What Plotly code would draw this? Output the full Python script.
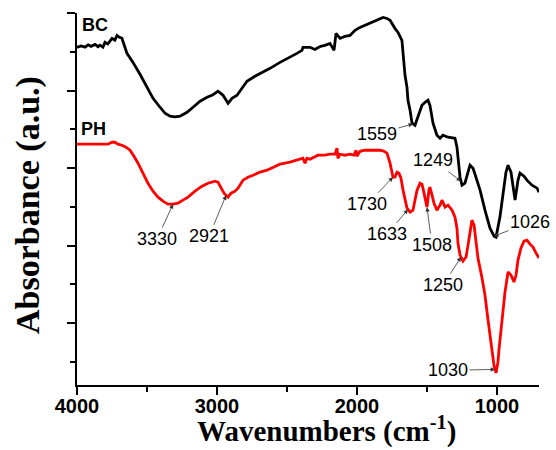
import numpy as np
import plotly.graph_objects as go

# ---- data (wavenumber cm^-1, absorbance a.u.) ----
bc_wn = [4000, 3970, 3943, 3920, 3900, 3871, 3850, 3836, 3815, 3800, 3780, 3750, 3730, 3714, 3700,
         3679, 3643, 3600, 3550, 3500, 3457, 3407, 3371, 3336, 3300, 3264, 3214, 3171, 3121, 3071,
         3036, 2993, 2957, 2921, 2893, 2857, 2821, 2786, 2729, 2671, 2621, 2550, 2479, 2429, 2393,
         2386, 2336, 2300, 2286, 2260, 2229, 2193, 2164, 2150, 2121, 2086, 2050, 2014, 1979, 1943,
         1907, 1857, 1814, 1786, 1764, 1729, 1707, 1679, 1671, 1657, 1643, 1636, 1621, 1607, 1586,
         1564, 1536, 1514, 1493, 1479, 1457, 1429, 1407, 1386, 1350, 1300, 1286, 1264, 1250, 1229,
         1193, 1171, 1143, 1121, 1086, 1050, 1021, 1007, 979, 957, 936, 921, 900, 871, 850, 836,
         807, 786, 750, 714, 700]
bc_abs = [3.557, 3.575, 3.560, 3.590, 3.570, 3.595, 3.565, 3.585, 3.560, 3.621, 3.600, 3.673, 3.650, 3.711, 3.690,
          3.673, 3.479, 3.363, 3.209, 3.041, 2.899, 2.784, 2.706, 2.668, 2.660, 2.668, 2.719, 2.784, 2.861, 2.912,
          2.938, 2.990, 2.938, 2.835, 2.899, 2.938, 3.028, 3.119, 3.183, 3.235, 3.286, 3.363, 3.428, 3.479, 3.518,
          3.557, 3.557, 3.530, 3.544, 3.570, 3.582, 3.608, 3.518, 3.737, 3.673, 3.698, 3.711, 3.776, 3.814, 3.840,
          3.866, 3.905, 3.943, 3.930, 3.905, 3.802, 3.750, 3.647, 3.479, 3.196, 3.041, 2.874, 2.745, 2.577, 2.552,
          2.655, 2.809, 2.848, 2.874, 2.809, 2.577, 2.423, 2.384, 2.423, 2.397, 2.384, 2.268, 1.881, 1.778, 1.804,
          2.036, 1.997, 1.843, 1.714, 1.456, 1.224, 1.120, 1.108, 1.366, 1.649, 1.946, 2.036, 1.946, 1.585, 1.843, 1.933,
          1.894, 1.843, 1.778, 1.740, 1.688]

ph_wn = [4000, 3907, 3836, 3779, 3750, 3729, 3707, 3679, 3650, 3621, 3593, 3564, 3529, 3493, 3457,
         3421, 3386, 3350, 3314, 3279, 3243, 3207, 3157, 3107, 3064, 3014, 2993, 2971, 2950, 2921,
         2900, 2871, 2850, 2814, 2779, 2743, 2693, 2643, 2600, 2550, 2479, 2429, 2386, 2371, 2357,
         2336, 2307, 2279, 2229, 2193, 2157, 2143, 2136, 2121, 2086, 2050, 2021, 2007, 2000, 1979,
         1943, 1907, 1871, 1836, 1807, 1786, 1764, 1743, 1729, 1714, 1700, 1686, 1671, 1657, 1643,
         1621, 1600, 1586, 1571, 1550, 1536, 1529, 1514, 1500, 1486, 1479, 1464, 1450, 1429, 1407,
         1393, 1371, 1350, 1321, 1300, 1286, 1279, 1264, 1243, 1221, 1207, 1193, 1179, 1164, 1150,
         1136, 1107, 1086, 1064, 1043, 1021, 1007, 993, 986, 964, 943, 921, 900, 879, 864,
         850, 829, 807, 786, 764, 743, 721, 700]
ph_abs = [2.307, 2.307, 2.307, 2.307, 2.332, 2.332, 2.307, 2.294, 2.268, 2.229, 2.152, 2.062, 1.933, 1.804, 1.701,
          1.624, 1.572, 1.534, 1.534, 1.546, 1.585, 1.624, 1.701, 1.765, 1.804, 1.830, 1.817, 1.753, 1.675, 1.624,
          1.675, 1.701, 1.740, 1.843, 1.881, 1.907, 1.946, 1.972, 2.010, 2.049, 2.075, 2.101, 2.126, 2.062, 2.126,
          2.113, 2.139, 2.165, 2.165, 2.178, 2.178, 2.255, 2.126, 2.178, 2.165, 2.178, 2.165, 2.229, 2.152, 2.216,
          2.229, 2.229, 2.229, 2.229, 2.216, 2.191, 2.062, 1.881, 1.881, 1.946, 1.933, 1.869, 1.714, 1.585, 1.482,
          1.430, 1.456, 1.585, 1.714, 1.804, 1.791, 1.740, 1.585, 1.495, 1.714, 1.753, 1.650, 1.546, 1.456, 1.521,
          1.585, 1.495, 1.521, 1.456, 1.366, 1.224, 1.031, 0.876, 0.799, 0.851, 1.005, 1.173, 1.327, 1.263, 1.005,
          0.838, 0.580, 0.361, 0.039, -0.284, -0.554, -0.644, -0.503, -0.348, 0.000, 0.399, 0.657, 0.619, 0.528, 0.619,
          0.812, 0.966, 1.057, 1.070, 1.018, 0.979, 0.902, 0.838]

# annotations: label, series, arrow-target wavenumber, text offset (px)
ann_labels = ["1559", "1249", "1026", "1730", "1633", "1508", "1250", "1030", "3330", "2921"]
ann_series = ["BC", "BC", "BC", "PH", "PH", "PH", "PH", "PH", "PH", "PH"]
ann_wn = [1600, 1257, 1021, 1743, 1636, 1500, 1257, 1014, 3314, 2935]
ann_dx = [-36, -28, 36, -26, -21, 5, -18, -47, -16, -17]
ann_dy = [10, -21, -14, 27, 25, 38, 28, 1, 35, 41]

series_labels = ["BC", "PH"]

fig = go.Figure()
fig.add_trace(go.Scatter(x=bc_wn, y=bc_abs, mode="lines", line=dict(color="black", width=2.8), name="BC"))
fig.add_trace(go.Scatter(x=ph_wn, y=ph_abs, mode="lines", line=dict(color="#ff0000", width=2.8), name="PH"))

data = {"BC": (bc_wn, bc_abs), "PH": (ph_wn, ph_abs)}
annotations = []
for lab, s, w, dx, dy in zip(ann_labels, ann_series, ann_wn, ann_dx, ann_dy):
    xs, ys = data[s]
    yv = float(np.interp(w, xs[::-1], ys[::-1]))
    annotations.append(dict(x=w, y=yv, xref="x", yref="y", text=lab, showarrow=True,
                            ax=dx, ay=dy, arrowhead=2, arrowsize=1.1, arrowwidth=0.8,
                            arrowcolor="#333333", standoff=0, startstandoff=0,
                            font=dict(family="Liberation Sans, Arial", size=18, color="black")))

# series name labels
annotations.append(dict(x=0.007, y=3.85, xref="paper", yref="y", text="<b>BC</b>", showarrow=False,
                        xanchor="left", yanchor="middle",
                        font=dict(family="Liberation Sans, Arial", size=18, color="black")))
annotations.append(dict(x=0.005, y=2.50, xref="paper", yref="y", text="<b>PH</b>", showarrow=False,
                        xanchor="left", yanchor="middle",
                        font=dict(family="Liberation Sans, Arial", size=18, color="black")))
# axis titles
annotations.append(dict(x=0.541, y=-0.12, xref="paper", yref="paper", text="<b>Wavenumbers (cm<sup>-1</sup>)</b>",
                        showarrow=False, xanchor="center", yanchor="middle",
                        font=dict(family="Liberation Serif, Times New Roman", size=29, color="black")))
annotations.append(dict(x=-0.106, y=0.484, xref="paper", yref="paper", text="<b>Absorbance (a.u.)</b>",
                        showarrow=False, xanchor="center", yanchor="middle", textangle=-90,
                        font=dict(family="Liberation Serif, Times New Roman", size=34, color="black")))

fig.update_layout(
    width=556, height=450,
    margin=dict(l=77, r=17, t=13, b=65),
    plot_bgcolor="white", paper_bgcolor="white",
    showlegend=False,
    annotations=annotations,
    xaxis=dict(range=[4000, 700], showline=True, linecolor="black", linewidth=1.5,
               ticks="outside", ticklen=8, tickwidth=1.5, tickcolor="black",
               tick0=0, dtick=1000, showgrid=False, zeroline=False, ticklabelstandoff=-6,
               tickfont=dict(family="Liberation Sans, Arial", size=20, color="black", weight="bold"),
               minor=dict(ticks="outside", ticklen=5, tickwidth=1.5, tickcolor="black", dtick=500, showgrid=False)),
    yaxis=dict(range=[-0.8, 4.0], showline=True, linecolor="black", linewidth=1.5,
               ticks="outside", ticklen=8, tickwidth=1.5, tickcolor="black",
               tick0=0, dtick=1, showgrid=False, zeroline=False, showticklabels=False,
               minor=dict(ticks="outside", ticklen=5, tickwidth=1.5, tickcolor="black", dtick=0.5, showgrid=False)),
)

fig.write_html("out.html")
